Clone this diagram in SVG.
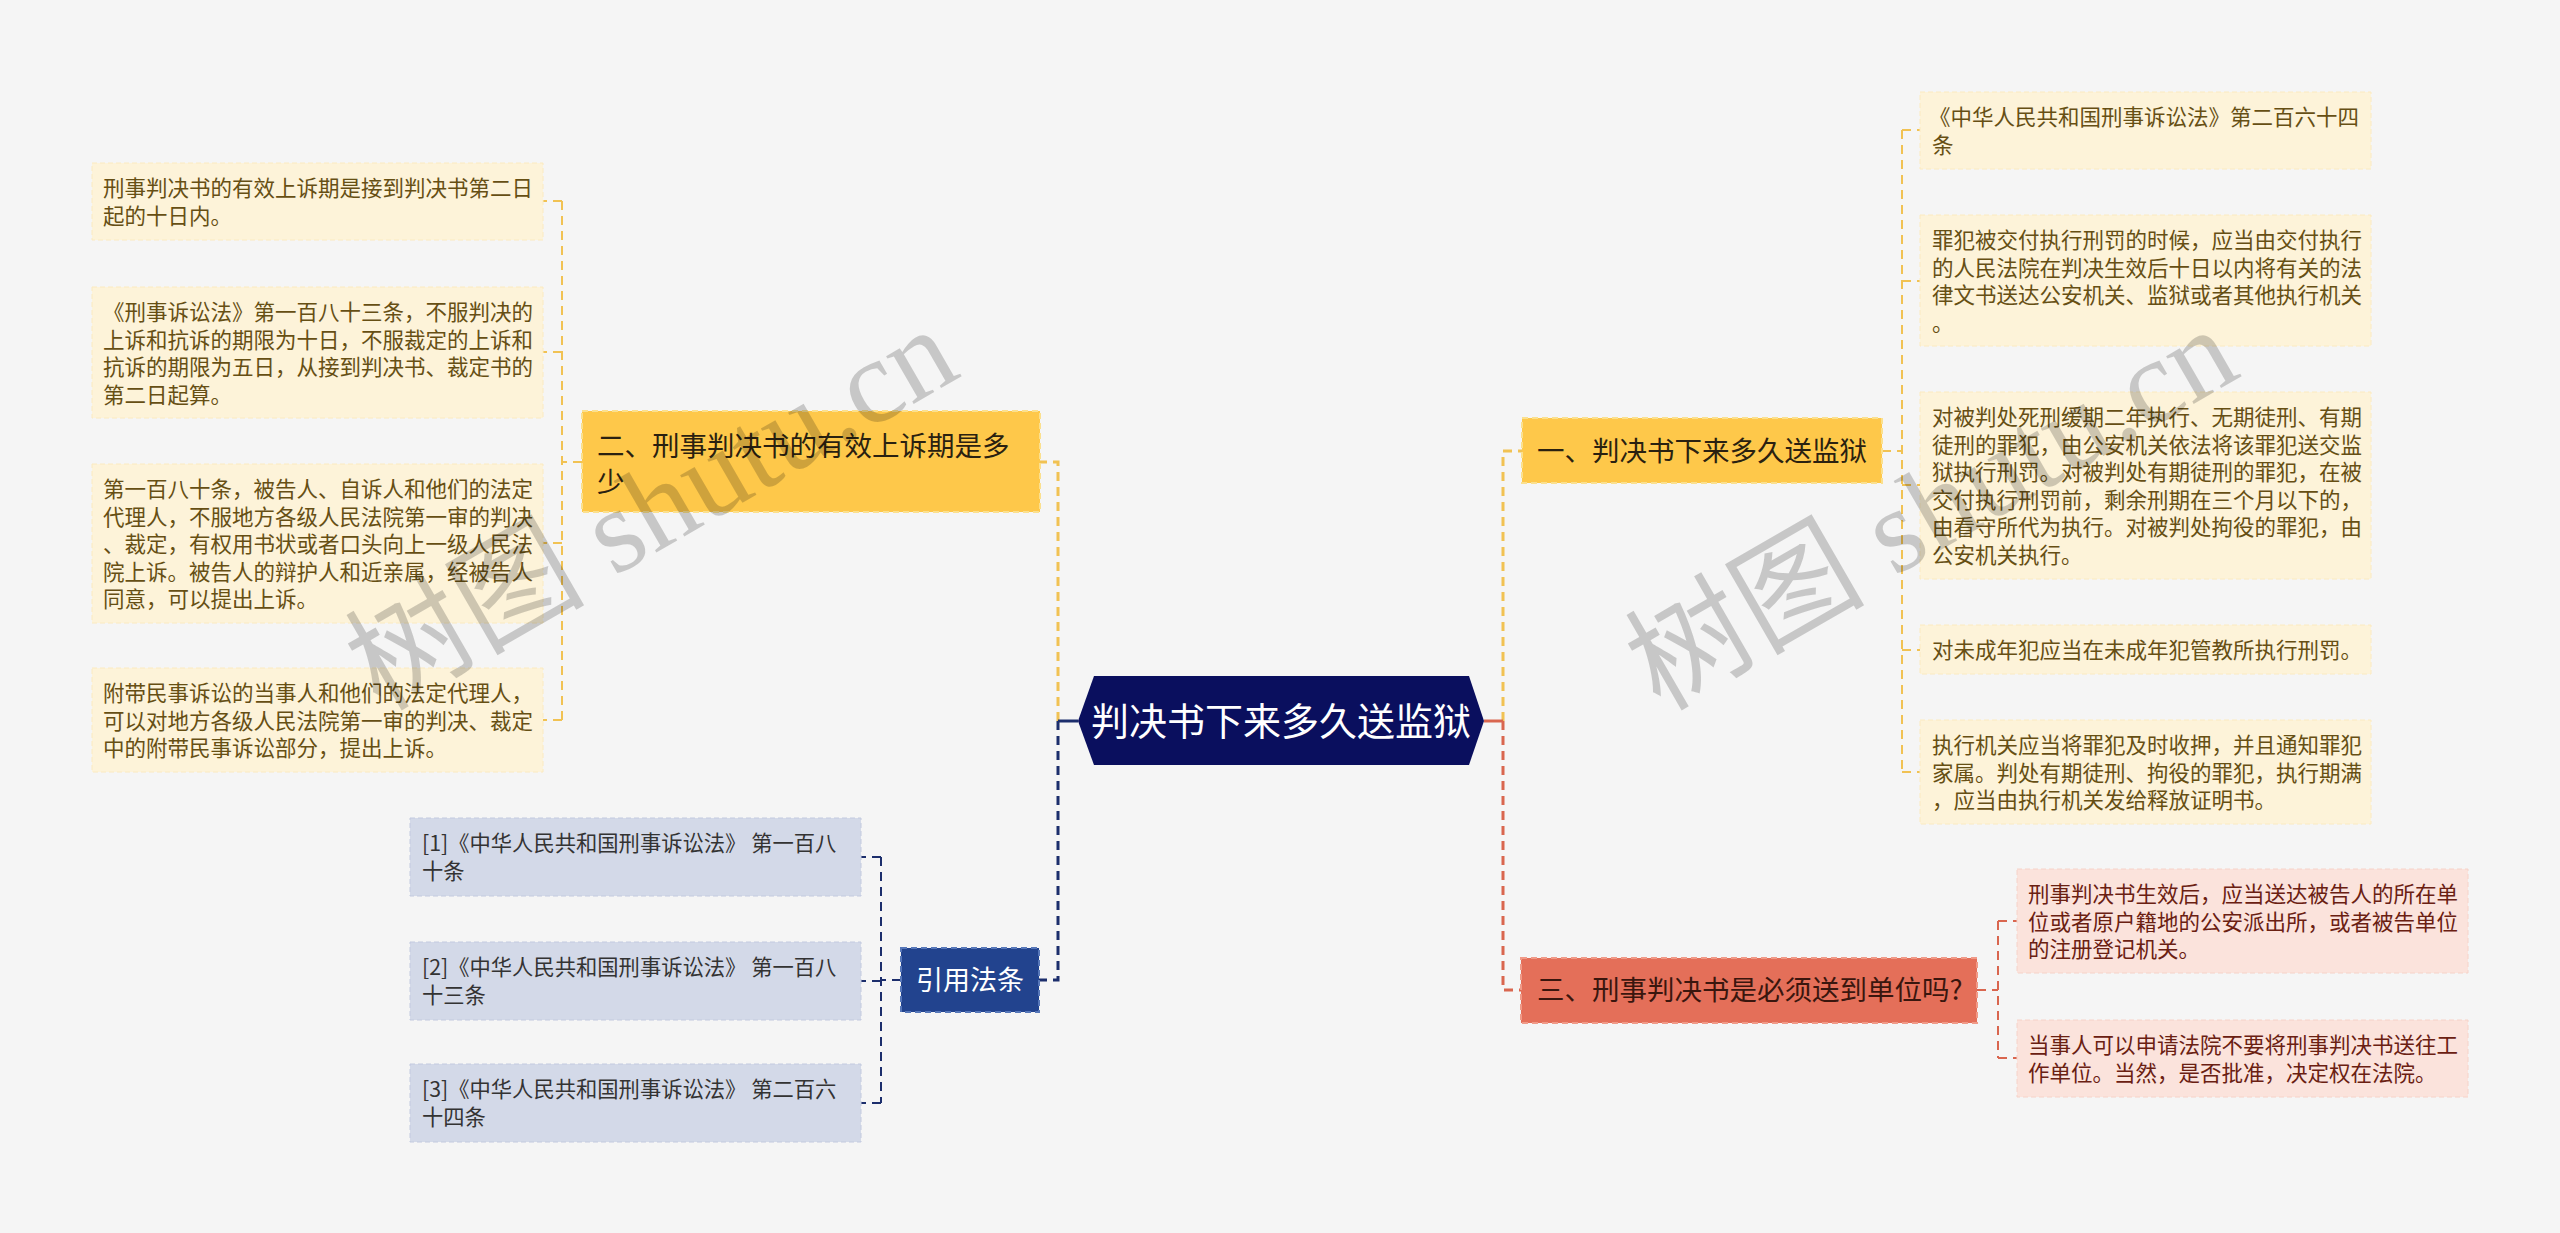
<svg xmlns="http://www.w3.org/2000/svg" width="2560" height="1233" viewBox="0 0 2560 1233">
<defs>
<style>
text{font-family:"Noto Sans CJK SC","Noto Sans",sans-serif;}
.bg{fill:#f5f5f5;}
.leafY{fill:#fdf3d9;stroke:#fbeac0;stroke-width:1;stroke-dasharray:5 3;}
.leafR{fill:#fbe3dc;stroke:#f6d2c8;stroke-width:1;stroke-dasharray:5 3;}
.leafB{fill:#d3d9e8;stroke:#c3cadf;stroke-width:1;stroke-dasharray:5 3;}
.tY{font-size:21.5px;fill:#664f14;}
.tR{font-size:21.5px;fill:#6a2012;}
.tB{font-size:21.3px;fill:#333333;}
.mainY{fill:#fec84a;stroke:#fbe08e;stroke-width:2;stroke-dasharray:6 4;}
.mainR{fill:#e46f59;stroke:#f09a88;stroke-width:2;stroke-dasharray:6 4;}
.mainB{fill:#22438e;stroke:#5676b8;stroke-width:2;stroke-dasharray:6 4;}
.tM{font-size:27.5px;fill:#2a2110;}
.tMR{font-size:27.5px;fill:#3a160e;}
.tMB{font-size:27px;fill:#ffffff;}
.cY{fill:none;stroke:#f1c253;stroke-dasharray:9 6;}
.cB{fill:none;stroke:#1c2e6c;stroke-dasharray:9 6;}
.cR{fill:none;stroke:#d9664f;stroke-dasharray:9 6;}
.l1{stroke-width:3;}
.l2{stroke-width:2;}
.wm{font-family:"Liberation Serif","Noto Sans CJK SC",serif;font-size:120px;fill:#000000;fill-opacity:0.19;}
</style>
</defs>
<rect class="bg" x="0" y="0" width="2560" height="1233"/>

<g id="connectors">
  <path class="cY l1" d="M1058,721 V462 H1040"/>
  <path class="cB l1" d="M1058,721 V980 H1039"/>
  <path d="M1078,721 H1058" stroke="#1c2e6c" stroke-width="3" fill="none"/>
  <path class="cY l1" d="M1503,721 V451 H1522"/>
  <path class="cR l1" d="M1503,721 V990 H1521"/>
  <path d="M1484,721 H1503" stroke="#d9664f" stroke-width="3" fill="none"/>
  <path class="cY l2" d="M582,462 H562"/>
  <path class="cY l2" d="M562,201 V720"/>
  <path class="cY l2" d="M562,201 H543 M562,352 H543 M562,543 H543 M562,720 H543"/>
  <path class="cB l2" d="M901,980 H881"/>
  <path class="cB l2" d="M881,857 V1103"/>
  <path class="cB l2" d="M881,857 H861 M881,981 H861 M881,1103 H861"/>
  <path class="cY l2" d="M1882,451 H1902"/>
  <path class="cY l2" d="M1902,130 V772"/>
  <path class="cY l2" d="M1902,130 H1920 M1902,281 H1920 M1902,485 H1920 M1902,650 H1920 M1902,772 H1920"/>
  <path class="cR l2" d="M1977,990 H1998"/>
  <path class="cR l2" d="M1998,921 V1058"/>
  <path class="cR l2" d="M1998,921 H2017 M1998,1058 H2017"/>
</g>

<g id="center">
  <polygon points="1078,721 1094,676 1469,676 1484,721 1469,765 1094,765" fill="#0a0f5e"/>
  <text x="1281" y="735" font-size="38" fill="#ffffff" text-anchor="middle">判决书下来多久送监狱</text>
</g>

<g id="node-2">
  <rect class="mainY" x="582" y="411" width="458" height="101"/>
  <text class="tM" x="597" y="456">二、刑事判决书的有效上诉期是多</text>
  <text class="tM" x="597" y="492">少</text>
</g>

<g id="leaf-l1">
  <rect class="leafY" x="92" y="163" width="451" height="77"/>
  <text class="tY" x="103" y="196">刑事判决书的有效上诉期是接到判决书第二日</text>
  <text class="tY" x="103" y="223.5">起的十日内。</text>
</g>
<g id="leaf-l2">
  <rect class="leafY" x="92" y="287" width="451" height="131"/>
  <text class="tY" x="103" y="320">《刑事诉讼法》第一百八十三条，不服判决的</text>
  <text class="tY" x="103" y="347.5">上诉和抗诉的期限为十日，不服裁定的上诉和</text>
  <text class="tY" x="103" y="375">抗诉的期限为五日，从接到判决书、裁定书的</text>
  <text class="tY" x="103" y="402.5">第二日起算。</text>
</g>
<g id="leaf-l3">
  <rect class="leafY" x="92" y="464" width="451" height="159"/>
  <text class="tY" x="103" y="497">第一百八十条，被告人、自诉人和他们的法定</text>
  <text class="tY" x="103" y="524.5">代理人，不服地方各级人民法院第一审的判决</text>
  <text class="tY" x="103" y="552">、裁定，有权用书状或者口头向上一级人民法</text>
  <text class="tY" x="103" y="579.5">院上诉。被告人的辩护人和近亲属，经被告人</text>
  <text class="tY" x="103" y="607">同意，可以提出上诉。</text>
</g>
<g id="leaf-l4">
  <rect class="leafY" x="92" y="668" width="451" height="104"/>
  <text class="tY" x="103" y="701">附带民事诉讼的当事人和他们的法定代理人，</text>
  <text class="tY" x="103" y="728.5">可以对地方各级人民法院第一审的判决、裁定</text>
  <text class="tY" x="103" y="756">中的附带民事诉讼部分，提出上诉。</text>
</g>

<g id="node-cite">
  <rect class="mainB" x="901" y="948" width="138" height="64"/>
  <text class="tMB" x="970" y="990" text-anchor="middle">引用法条</text>
</g>
<g id="cite-1">
  <rect class="leafB" x="410" y="818" width="451" height="78"/>
  <text class="tB" x="422" y="851">[1]《中华人民共和国刑事诉讼法》 第一百八</text>
  <text class="tB" x="422" y="878.5">十条</text>
</g>
<g id="cite-2">
  <rect class="leafB" x="410" y="942" width="451" height="78"/>
  <text class="tB" x="422" y="975">[2]《中华人民共和国刑事诉讼法》 第一百八</text>
  <text class="tB" x="422" y="1002.5">十三条</text>
</g>
<g id="cite-3">
  <rect class="leafB" x="410" y="1064" width="451" height="78"/>
  <text class="tB" x="422" y="1097">[3]《中华人民共和国刑事诉讼法》 第二百六</text>
  <text class="tB" x="422" y="1124.5">十四条</text>
</g>

<g id="node-1">
  <rect class="mainY" x="1522" y="418" width="360" height="65"/>
  <text class="tM" x="1702" y="461" text-anchor="middle">一、判决书下来多久送监狱</text>
</g>
<g id="leaf-r1">
  <rect class="leafY" x="1920" y="92" width="451" height="77"/>
  <text class="tY" x="1929" y="125">《中华人民共和国刑事诉讼法》第二百六十四</text>
  <text class="tY" x="1932" y="152.5">条</text>
</g>
<g id="leaf-r2">
  <rect class="leafY" x="1920" y="215" width="451" height="131"/>
  <text class="tY" x="1932" y="248">罪犯被交付执行刑罚的时候，应当由交付执行</text>
  <text class="tY" x="1932" y="275.5">的人民法院在判决生效后十日以内将有关的法</text>
  <text class="tY" x="1932" y="303">律文书送达公安机关、监狱或者其他执行机关</text>
  <text class="tY" x="1932" y="330.5">。</text>
</g>
<g id="leaf-r3">
  <rect class="leafY" x="1920" y="392" width="451" height="187"/>
  <text class="tY" x="1932" y="425">对被判处死刑缓期二年执行、无期徒刑、有期</text>
  <text class="tY" x="1932" y="452.5">徒刑的罪犯，由公安机关依法将该罪犯送交监</text>
  <text class="tY" x="1932" y="480">狱执行刑罚。对被判处有期徒刑的罪犯，在被</text>
  <text class="tY" x="1932" y="507.5">交付执行刑罚前，剩余刑期在三个月以下的，</text>
  <text class="tY" x="1932" y="535">由看守所代为执行。对被判处拘役的罪犯，由</text>
  <text class="tY" x="1932" y="562.5">公安机关执行。</text>
</g>
<g id="leaf-r4">
  <rect class="leafY" x="1920" y="625" width="451" height="49"/>
  <text class="tY" x="1932" y="658">对未成年犯应当在未成年犯管教所执行刑罚。</text>
</g>
<g id="leaf-r5">
  <rect class="leafY" x="1920" y="720" width="451" height="104"/>
  <text class="tY" x="1932" y="753">执行机关应当将罪犯及时收押，并且通知罪犯</text>
  <text class="tY" x="1932" y="780.5">家属。判处有期徒刑、拘役的罪犯，执行期满</text>
  <text class="tY" x="1932" y="808">，应当由执行机关发给释放证明书。</text>
</g>

<g id="node-3">
  <rect class="mainR" x="1521" y="958" width="456" height="65"/>
  <text class="tMR" x="1537" y="1000">三、刑事判决书是必须送到单位吗?</text>
</g>
<g id="leaf-r6">
  <rect class="leafR" x="2017" y="869" width="451" height="104"/>
  <text class="tR" x="2028" y="902">刑事判决书生效后，应当送达被告人的所在单</text>
  <text class="tR" x="2028" y="929.5">位或者原户籍地的公安派出所，或者被告单位</text>
  <text class="tR" x="2028" y="957">的注册登记机关。</text>
</g>
<g id="leaf-r7">
  <rect class="leafR" x="2017" y="1020" width="451" height="77"/>
  <text class="tR" x="2028" y="1053">当事人可以申请法院不要将刑事判决书送往工</text>
  <text class="tR" x="2028" y="1080.5">作单位。当然，是否批准，决定权在法院。</text>
</g>

<g id="watermarks">
  <text class="wm" x="380" y="712" transform="rotate(-30 380 712)">树图 shutu.cn</text>
  <text class="wm" x="1660" y="712" transform="rotate(-30 1660 712)">树图 shutu.cn</text>
</g>
</svg>
